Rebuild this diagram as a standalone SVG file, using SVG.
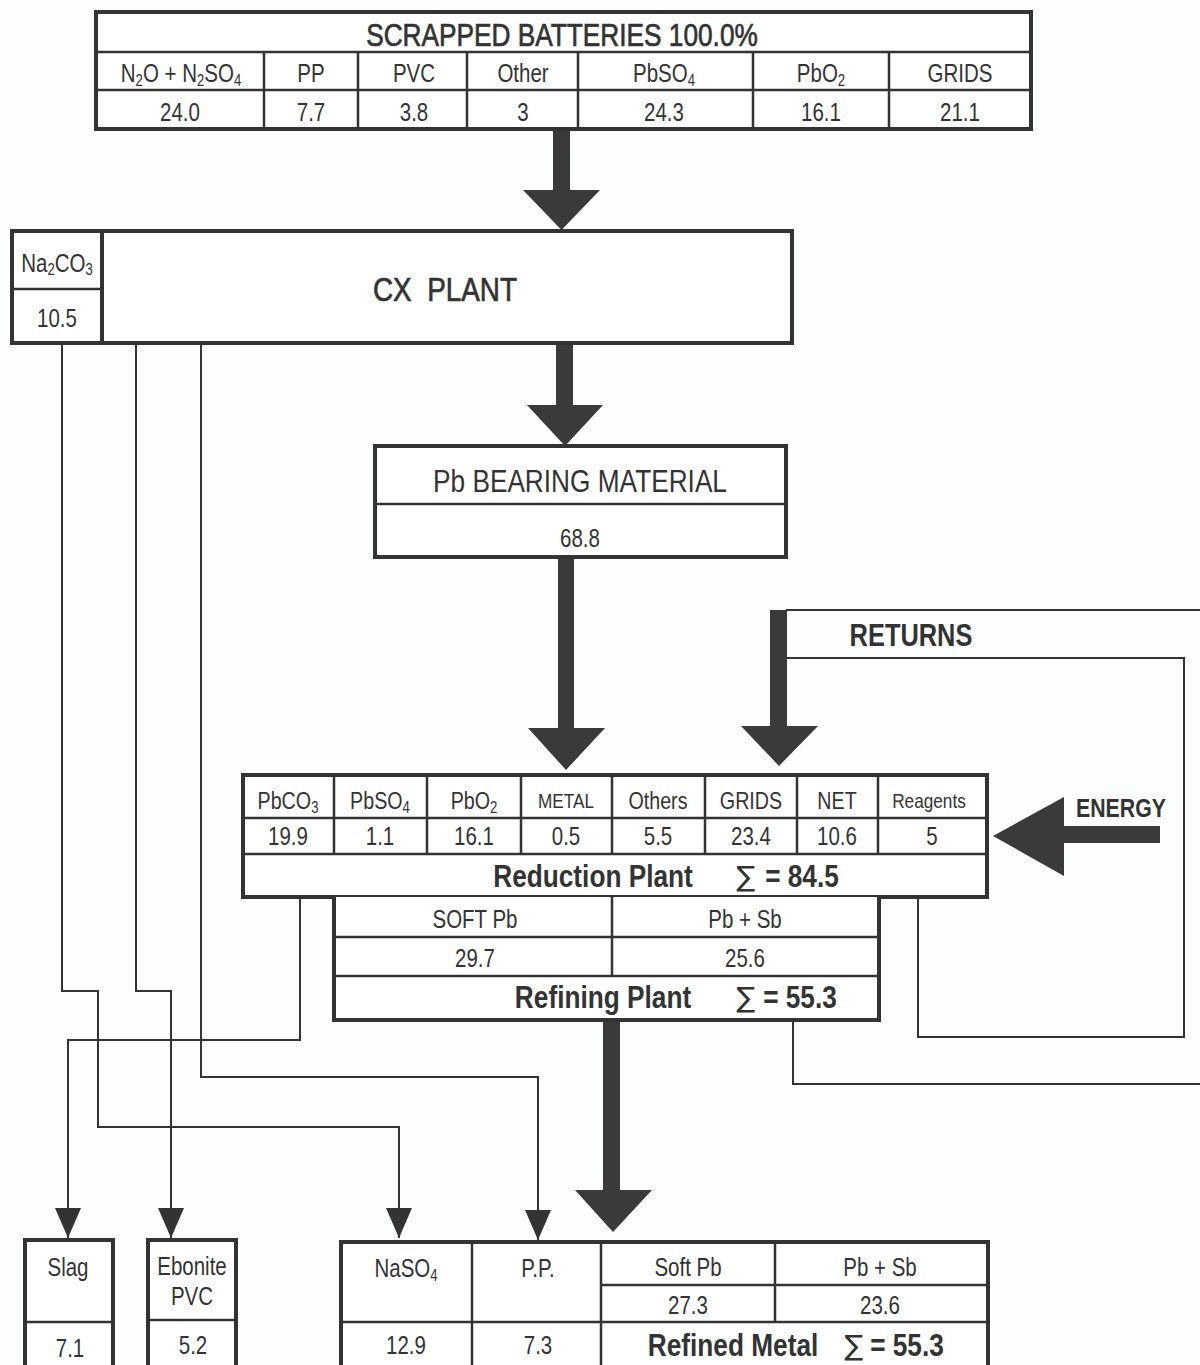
<svg xmlns="http://www.w3.org/2000/svg" width="1200" height="1365" viewBox="0 0 1200 1365">
  <defs>
    <style>
      /* narrow sans look: Liberation Sans squeezed about each label's own centre */
      .t { font-family: "Liberation Sans", Arial, sans-serif; fill: #333; text-anchor: middle; font-size: 25px;
           transform-box: fill-box; transform-origin: center; transform: scaleX(0.82); }
      .b { font-weight: bold; font-size: 32px; }
      .m { stroke: #333; stroke-width: 0.7px; }
      .s { font-size: 16px; }
      .sig { font-family: "DejaVu Sans", "Liberation Sans", sans-serif; fill: #333; text-anchor: middle; font-size: 28px; }
      .box { fill: #fff; stroke: #333; stroke-width: 4; }
      .div { stroke: #333; stroke-width: 2.5; fill: none; }
      .wire { fill: none; stroke: #333; stroke-width: 2; }
      .fat { fill: #3a3a3a; }
    </style>
    <marker id="ah" viewBox="0 0 30 26" refX="30" refY="13" markerWidth="30" markerHeight="26" markerUnits="userSpaceOnUse" orient="auto">
      <path d="M0,0 L30,13 L0,26 Z" fill="#333"/>
    </marker>
  </defs>

  <rect width="1200" height="1365" fill="#fcfefe"/>

  <!-- thin flow lines and return loops -->
  <g id="connectors">
    <path class="wire" d="M62,343 V991 H98 V1127 H399 V1238" marker-end="url(#ah)"/>
    <path class="wire" d="M136,343 V991 H171 V1238" marker-end="url(#ah)"/>
    <path class="wire" d="M201,343 V1077 H538 V1240" marker-end="url(#ah)"/>
    <path class="wire" d="M300,897 V1040 H68 V1238" marker-end="url(#ah)"/>
    <path class="wire" d="M918,897 V1037 H1184 V658 H786"/>
    <path class="wire" d="M793,1020 V1084 H1202"/>
    <path class="wire" d="M786,610 H1202"/>

    <!-- heavy block arrows -->
    <polygon class="fat" points="553,129 570,129 570,190 600,190 561.5,230 523,190 553,190"/>
    <polygon class="fat" points="556,343 573,343 573,405 603,405 565,446 527,405 556,405"/>
    <polygon class="fat" points="558,557 574,557 574,728 605,728 566,770 528,728 558,728"/>
    <polygon class="fat" points="770,610 787,610 787,726 818,726 779,766 741,726 770,726"/>
    <polygon class="fat" points="603,1020 620,1020 620,1190 652,1190 613,1232 575,1190 603,1190"/>
    <polygon class="fat" points="1160,826 1160,843 1064,843 1064,876 993,836 1064,797 1064,826"/>
  </g>

  <g id="scrapped-batteries">
    <rect class="box" x="96" y="12" width="935" height="117"/>
    <path class="div" d="M96,52 H1031 M96,90 H1031 M264,52 V129 M358,52 V129 M467,52 V129 M578,52 V129 M753,52 V129 M889,52 V129"/>
    <text class="t m" x="562" y="46" style="font-size:32px">SCRAPPED BATTERIES 100.0%</text>
    <text class="t" x="181" y="82">N<tspan class="s" dy="4">2</tspan><tspan dy="-4">O + N</tspan><tspan class="s" dy="4">2</tspan><tspan dy="-4">SO</tspan><tspan class="s" dy="4">4</tspan></text>
    <text class="t" x="311" y="82">PP</text>
    <text class="t" x="414" y="82">PVC</text>
    <text class="t" x="523" y="82">Other</text>
    <text class="t" x="664" y="82">PbSO<tspan class="s" dy="4">4</tspan></text>
    <text class="t" x="821" y="82">PbO<tspan class="s" dy="4">2</tspan></text>
    <text class="t" x="960" y="82">GRIDS</text>
    <text class="t" x="180" y="121">24.0</text>
    <text class="t" x="311" y="121">7.7</text>
    <text class="t" x="414" y="121">3.8</text>
    <text class="t" x="523" y="121">3</text>
    <text class="t" x="664" y="121">24.3</text>
    <text class="t" x="821" y="121">16.1</text>
    <text class="t" x="960" y="121">21.1</text>
  </g>

  <g id="cx-plant">
    <rect class="box" x="12" y="231" width="780" height="112"/>
    <path class="div" d="M102,231 V343" style="stroke-width:4"/>
    <path class="div" d="M12,289 H102"/>
    <text class="t" x="57" y="272">Na<tspan class="s" dy="3">2</tspan><tspan dy="-3">CO</tspan><tspan class="s" dy="3">3</tspan></text>
    <text class="t" x="57" y="327">10.5</text>
    <text class="t m" x="445" y="301" style="font-size:34px" xml:space="preserve">CX  PLANT</text>
  </g>

  <g id="pb-bearing-material">
    <rect class="box" x="375" y="446" width="411" height="111"/>
    <path class="div" d="M375,504 H786"/>
    <text class="t" x="580" y="492" style="font-size:32px">Pb BEARING MATERIAL</text>
    <text class="t" x="580" y="547">68.8</text>
  </g>

  <g id="reduction-plant">
    <rect class="box" x="243" y="775" width="744" height="122"/>
    <path class="div" d="M243,818 H987 M243,854 H987 M334,775 V854 M427,775 V854 M521,775 V854 M612,775 V854 M705,775 V854 M797,775 V854 M878,775 V854"/>
    <text class="t" x="288" y="809" style="font-size:24px">PbCO<tspan class="s" dy="4">3</tspan></text>
    <text class="t" x="380" y="809" style="font-size:24px">PbSO<tspan class="s" dy="4">4</tspan></text>
    <text class="t" x="474" y="809" style="font-size:24px">PbO<tspan class="s" dy="4">2</tspan></text>
    <text class="t" x="566" y="808" style="font-size:21px">METAL</text>
    <text class="t" x="658" y="809" style="font-size:24px">Others</text>
    <text class="t" x="751" y="809" style="font-size:24px">GRIDS</text>
    <text class="t" x="837" y="809" style="font-size:24px">NET</text>
    <text class="t" x="929" y="808" style="font-size:21px">Reagents</text>
    <text class="t" x="288" y="845">19.9</text>
    <text class="t" x="380" y="845">1.1</text>
    <text class="t" x="474" y="845">16.1</text>
    <text class="t" x="566" y="845">0.5</text>
    <text class="t" x="658" y="845">5.5</text>
    <text class="t" x="751" y="845">23.4</text>
    <text class="t" x="837" y="845">10.6</text>
    <text class="t" x="932" y="845">5</text>
    <text class="t b" x="593" y="887">Reduction Plant</text>
    <text class="sig" x="746" y="886">∑</text>
    <text class="t b" x="802" y="887">= 84.5</text>
  </g>

  <g id="refining-plant">
    <path class="box" d="M334,897 V1020 H879 V897"/>
    <path class="div" d="M334,937 H879 M334,976 H879 M612,897 V976"/>
    <text class="t" x="475" y="928">SOFT Pb</text>
    <text class="t" x="745" y="928">Pb + Sb</text>
    <text class="t" x="475" y="967">29.7</text>
    <text class="t" x="745" y="967">25.6</text>
    <text class="t b" x="603" y="1008">Refining Plant</text>
    <text class="sig" x="746" y="1007">∑</text>
    <text class="t b" x="800" y="1008">= 55.3</text>
  </g>

  <g id="returns">
    <text class="t b" x="911" y="646" style="font-size:31px">RETURNS</text>
  </g>

  <g id="energy">
    <text class="t b" x="1121" y="817" style="font-size:26px">ENERGY</text>
  </g>

  <g id="slag">
    <rect class="box" x="25" y="1240" width="88" height="130"/>
    <path class="div" d="M25,1322 H113"/>
    <text class="t" x="68" y="1276">Slag</text>
    <text class="t" x="70" y="1357">7.1</text>
  </g>

  <g id="ebonite-pvc">
    <rect class="box" x="148" y="1240" width="88" height="130"/>
    <path class="div" d="M148,1320 H236"/>
    <text class="t" x="192" y="1275">Ebonite</text>
    <text class="t" x="192" y="1305">PVC</text>
    <text class="t" x="193" y="1354">5.2</text>
  </g>

  <g id="refined-metal">
    <rect class="box" x="341" y="1242" width="647" height="128"/>
    <path class="div" d="M341,1322 H988 M601,1285 H988 M472,1242 V1370 M601,1242 V1370 M775,1242 V1322"/>
    <text class="t" x="406" y="1277">NaSO<tspan class="s" dy="4">4</tspan></text>
    <text class="t" x="538" y="1277">P.P.</text>
    <text class="t" x="688" y="1276">Soft Pb</text>
    <text class="t" x="880" y="1276">Pb + Sb</text>
    <text class="t" x="688" y="1314">27.3</text>
    <text class="t" x="880" y="1314">23.6</text>
    <text class="t" x="406" y="1354">12.9</text>
    <text class="t" x="538" y="1354">7.3</text>
    <text class="t b" x="733" y="1356">Refined Metal</text>
    <text class="sig" x="854" y="1355">∑</text>
    <text class="t b" x="907" y="1356">= 55.3</text>
  </g>
</svg>
